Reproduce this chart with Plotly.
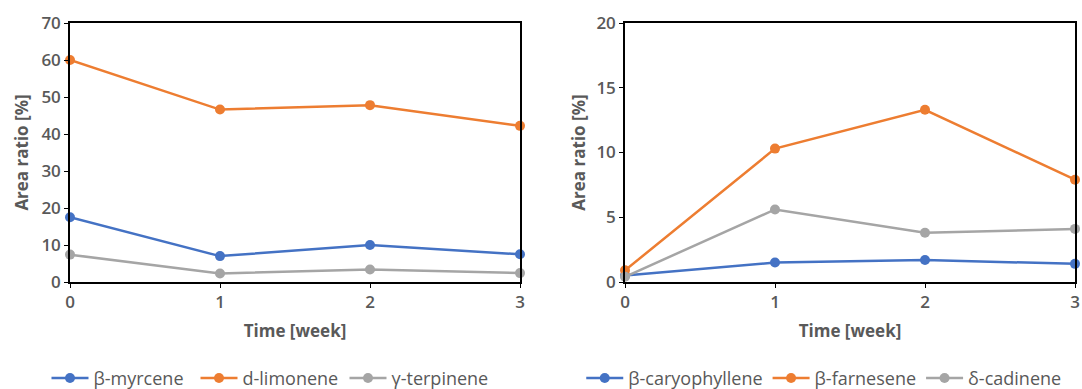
import plotly.graph_objects as go

weeks = [0, 1, 2, 3]

myrcene = [17.5, 7.0, 10.0, 7.5]
limonene = [60.0, 46.6, 47.8, 42.2]
terpinene = [7.4, 2.3, 3.4, 2.4]

caryophyllene = [0.5, 1.5, 1.7, 1.4]
farnesene = [0.9, 10.3, 13.3, 7.9]
cadinene = [0.4, 5.6, 3.8, 4.1]

left_names = ["β-myrcene", "d-limonene", "γ-terpinene"]
right_names = ["β-caryophyllene", "β-farnesene", "δ-cadinene"]
colors = ["#4472C4", "#ED7D31", "#A5A5A5"]

FONT = "Open Sans"
TXT = "#595959"

fig = go.Figure()

for name, vals, col in zip(left_names, [myrcene, limonene, terpinene], colors):
    fig.add_trace(go.Scatter(x=weeks, y=vals, name=name, mode="lines+markers",
                             line=dict(color=col, width=2.5),
                             marker=dict(color=col, size=10),
                             xaxis="x", yaxis="y", legend="legend", cliponaxis=False))

for name, vals, col in zip(right_names, [caryophyllene, farnesene, cadinene], colors):
    fig.add_trace(go.Scatter(x=weeks, y=vals, name=name, mode="lines+markers",
                             line=dict(color=col, width=2.5),
                             marker=dict(color=col, size=10),
                             xaxis="x2", yaxis="y2", legend="legend2", cliponaxis=False))

axis_common = dict(showline=True, linecolor="black", linewidth=1.5, mirror=True,
                   showgrid=False, zeroline=False, ticks="outside", ticklen=4,
                   tickcolor="black", tickwidth=1,
                   tickfont=dict(family=FONT, size=17, color=TXT, weight=600))

title_font = dict(family=FONT, size=17, color=TXT, weight="bold")
legend_font = dict(family=FONT, size=18, color=TXT)

d1 = [0, 450 / 1005]
d2 = [555 / 1005, 1]

fig.update_layout(
    width=1082, height=389,
    margin=dict(l=70, r=7, t=23, b=107, autoexpand=False),
    paper_bgcolor="white", plot_bgcolor="white",
    showlegend=True,
    xaxis=dict(domain=d1, range=[0, 3], dtick=1, anchor="y",
               title=dict(text="Time [week]", font=title_font, standoff=13), **axis_common),
    yaxis=dict(domain=[0, 1], range=[0, 70], dtick=10, anchor="x",
               title=dict(text="Area ratio [%]", font=title_font, standoff=8), **axis_common),
    xaxis2=dict(domain=d2, range=[0, 3], dtick=1, anchor="y2",
                title=dict(text="Time [week]", font=title_font, standoff=13), **axis_common),
    yaxis2=dict(domain=[0, 1], range=[0, 20], dtick=5, anchor="x2",
                title=dict(text="Area ratio [%]", font=title_font, standoff=6), **axis_common),
    legend=dict(orientation="h", x=0.199, xanchor="center", y=-0.372, yanchor="middle",
                font=legend_font, bgcolor="rgba(0,0,0,0)", itemwidth=37, entrywidth=97),
    legend2=dict(orientation="h", x=0.75, xanchor="center", y=-0.372, yanchor="middle",
                 font=legend_font, bgcolor="rgba(0,0,0,0)", itemwidth=37),
)

fig.write_html("out.html", config={"displayModeBar": False},
               post_script="document.body.style.margin='0';"
                           "document.documentElement.style.overflow='hidden';")
